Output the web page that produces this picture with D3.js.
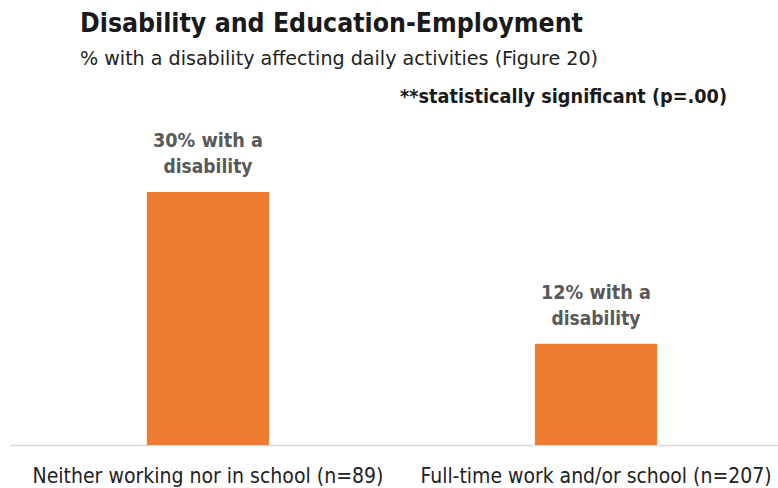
<!DOCTYPE html>
<html><head><meta charset="utf-8">
<script src="https://cdn.jsdelivr.net/npm/d3@7"></script>
<style>
body{margin:0;background:#fff;}
text{font-family:"Liberation Sans Narrow","DejaVu Sans Condensed","Open Sans",sans-serif;}
</style></head>
<body><svg id="c" width="778" height="488"></svg>
<script>
const categories = ["Neither working nor in school (n=89)", "Full-time work and/or school (n=207)"];
const values = [30, 12];
const dataLabels = [["30% with a", "disability"], ["12% with a", "disability"]];
const title = "Disability and Education-Employment";
const subtitle = "% with a disability affecting daily activities (Figure 20)";
const note = "**statistically significant (p=.00)";

const svg = d3.select("#c");
const x = d3.scaleBand().domain(categories).range([14, 790]);
const y = d3.scaleLinear().domain([0, 30]).range([445, 192]);
const bw = x.bandwidth() * 0.315;

svg.append("text").attr("x", 80).attr("y", 32).attr("font-size", 26).attr("font-weight", "bold")
  .attr("fill", "#1a1a1a").attr("textLength", 503).attr("lengthAdjust", "spacingAndGlyphs").text(title);
svg.append("text").attr("x", 80).attr("y", 65).attr("font-size", 20)
  .attr("fill", "#222").attr("textLength", 518).attr("lengthAdjust", "spacingAndGlyphs").text(subtitle);
svg.append("text").attr("x", 400).attr("y", 103).attr("font-size", 20).attr("font-weight", "bold")
  .attr("fill", "#1a1a1a").attr("textLength", 327).attr("lengthAdjust", "spacingAndGlyphs").text(note);

svg.append("line").attr("x1", 10).attr("x2", 778).attr("y1", y(0) + 0.5).attr("y2", y(0) + 0.5)
  .attr("stroke", "#d9d9d9").attr("stroke-width", 1.5);

svg.selectAll("rect.bar").data(values).join("rect").attr("class", "bar")
  .attr("x", (d, i) => x(categories[i]) + x.bandwidth() / 2 - bw / 2)
  .attr("width", bw)
  .attr("y", d => y(d))
  .attr("height", d => y(0) - y(d))
  .attr("fill", "#ED7D31");

values.forEach((v, i) => {
  const cx = x(categories[i]) + x.bandwidth() / 2;
  svg.append("text").attr("x", cx).attr("y", y(v) - 45).attr("text-anchor", "middle").attr("font-size", 19)
    .attr("font-weight", "bold").attr("fill", "#595959")
    .attr("textLength", 110).attr("lengthAdjust", "spacingAndGlyphs").text(dataLabels[i][0]);
  svg.append("text").attr("x", cx).attr("y", y(v) - 19).attr("text-anchor", "middle").attr("font-size", 19)
    .attr("font-weight", "bold").attr("fill", "#595959")
    .attr("textLength", 89).attr("lengthAdjust", "spacingAndGlyphs").text(dataLabels[i][1]);
  svg.append("text").attr("x", cx).attr("y", 483).attr("text-anchor", "middle").attr("font-size", 21)
    .attr("fill", "#222").attr("textLength", 351).attr("lengthAdjust", "spacingAndGlyphs").text(categories[i]);
});
</script></body></html>
